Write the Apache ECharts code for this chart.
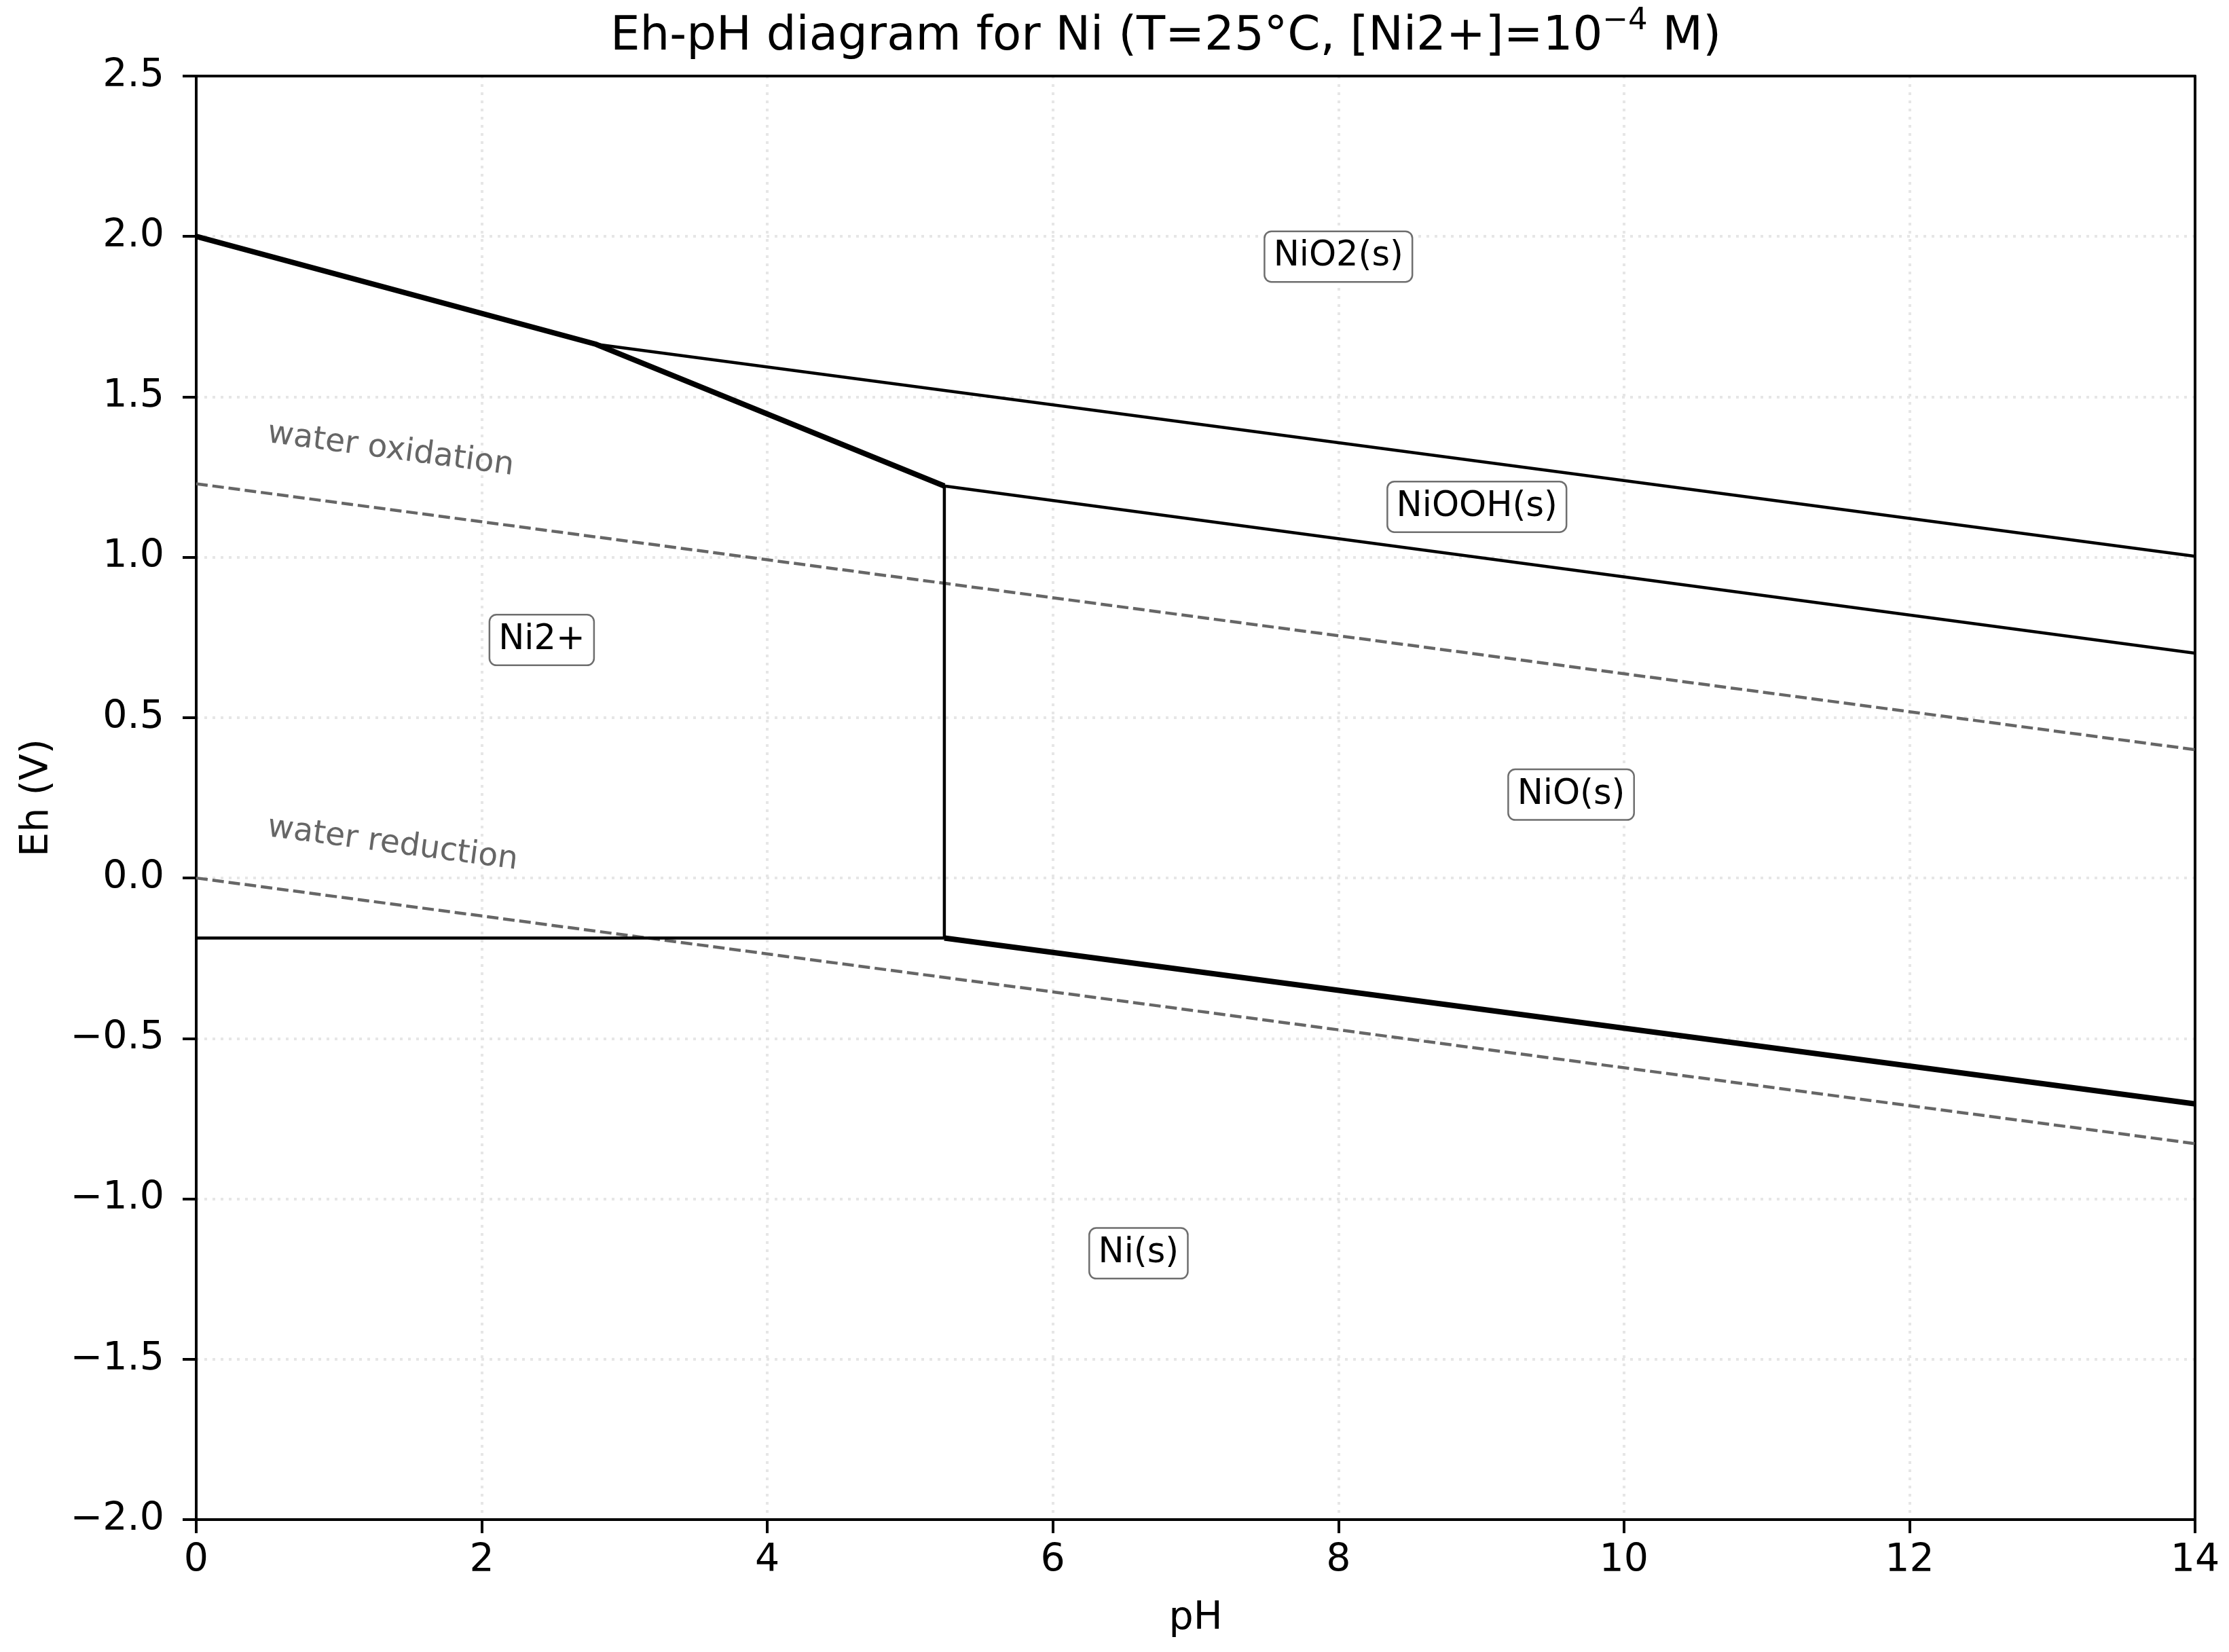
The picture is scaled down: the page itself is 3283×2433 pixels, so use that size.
<!DOCTYPE html>
<html>
<head>
<meta charset="utf-8">
<script src="https://cdn.jsdelivr.net/npm/echarts@6/dist/echarts.min.js"></script>
<style>
html,body{margin:0;padding:0;background:#fff;}
#c{width:3283px;height:2433px;}
</style>
</head>
<body>
<div id="c"></div>
<script>
// ---- data ----
const xTicks = [0, 2, 4, 6, 8, 10, 12, 14];
const yTicks = [-2.0, -1.5, -1.0, -0.5, 0.0, 0.5, 1.0, 1.5, 2.0, 2.5];

// boundaries: pH values and Eh values
const phNi2NiO2 = [0, 2.80, 5.24];
const ehNi2NiO2 = [2.00, 1.664, 1.222];
const phNiO2NiOOH = [2.80, 14];
const ehNiO2NiOOH = [1.664, 1.003];
const phNiOOHNiO = [5.24, 14];
const ehNiOOHNiO = [1.222, 0.701];
const phNi2NiO = [5.24, 5.24];
const ehNi2NiO = [-0.187, 1.222];
const phNi2Ni = [0, 5.24];
const ehNi2Ni = [-0.187, -0.187];
const phNiONi = [5.24, 14];
const ehNiONi = [-0.187, -0.704];

// water stability lines
const phWater = [0, 14];
const ehWaterOx = [1.229, 0.400];
const ehWaterRed = [0.0, -0.828];

// region labels
const regionNames = ['Ni2+', 'NiO2(s)', 'NiOOH(s)', 'NiO(s)', 'Ni(s)'];
const regionPH = [2.42, 8.00, 8.97, 9.63, 6.60];
const regionEh = [0.742, 1.937, 1.157, 0.26, -1.17];

// water labels
const waterLabels = ['water oxidation', 'water reduction'];
const waterLabelPH = [0.5, 0.5];
const waterLabelEh = [1.385, 0.157];

// ---- chart ----
const FONT = 'DejaVu Sans';
const zip = (xs, ys) => xs.map((x, i) => [x, ys[i]]);
const fmtY = v => (v < 0 ? '\u2212' : '') + Math.abs(v).toFixed(1);

const chart = echarts.init(document.getElementById('c'), null, {renderer: 'canvas'});

function lineSeries(name, xs, ys, width, color, type) {
  return {
    name, type: 'line', data: zip(xs, ys), symbol: 'none', z: 5,
    lineStyle: {color: color || '#000', width, type: type || 'solid', cap: 'butt', join: 'miter'},
    silent: true
  };
}

const gridLine = {show: true, showMinLine: false, showMaxLine: false,
  lineStyle: {color: '#e6e6e6', width: 4, type: [4, 8]}};
const spine = {show: true, onZero: false, lineStyle: {color: '#000', width: 4}};

const option = {
  animation: false,
  backgroundColor: '#fff',
  grid: {left: 289, right: 50, top: 112, bottom: 195, containLabel: false},
  xAxis: [{
    type: 'value', min: 0, max: 14, interval: 2, position: 'bottom',
    name: 'pH', nameLocation: 'middle', nameGap: 118,
    nameTextStyle: {fontSize: 57, color: '#000', fontFamily: FONT},
    axisLine: spine,
    axisTick: {show: true, length: 20, lineStyle: {color: '#000', width: 4}},
    axisLabel: {fontSize: 57, color: '#000', fontFamily: FONT, margin: 33, formatter: v => String(v)},
    splitLine: gridLine, z: 3
  }, {
    type: 'value', min: 0, max: 14, interval: 2, position: 'top',
    axisLine: spine, axisTick: {show: false}, axisLabel: {show: false}, splitLine: {show: false}, z: 3
  }],
  yAxis: [{
    type: 'value', min: -2, max: 2.5, interval: 0.5, position: 'left',
    name: 'Eh (V)', nameLocation: 'middle', nameGap: 205, nameRotate: 90,
    nameTextStyle: {fontSize: 57, color: '#000', fontFamily: FONT},
    axisLine: spine,
    axisTick: {show: true, length: 20, lineStyle: {color: '#000', width: 4}},
    axisLabel: {fontSize: 57, color: '#000', fontFamily: FONT, margin: 47, formatter: fmtY},
    splitLine: gridLine, z: 3
  }, {
    type: 'value', min: -2, max: 2.5, interval: 0.5, position: 'right',
    axisLine: spine, axisTick: {show: false}, axisLabel: {show: false}, splitLine: {show: false}, z: 3
  }],
  series: [
    lineSeries('water oxidation', phWater, ehWaterOx, 4.5, '#666666', [17, 7]),
    lineSeries('water reduction', phWater, ehWaterRed, 4.5, '#666666', [17, 7]),
    lineSeries('Ni2+/NiO2', phNi2NiO2, ehNi2NiO2, 8),
    lineSeries('NiO2/NiOOH', phNiO2NiOOH, ehNiO2NiOOH, 4.5),
    lineSeries('NiOOH/NiO', phNiOOHNiO, ehNiOOHNiO, 4.5),
    lineSeries('Ni2+/NiO', phNi2NiO, ehNi2NiO, 4.5),
    lineSeries('Ni2+/Ni', phNi2Ni, ehNi2Ni, 4.5),
    lineSeries('NiO/Ni', phNiONi, ehNiONi, 8),
    {
      name: 'regions', type: 'scatter', z: 10, silent: true,
      symbol: 'circle', symbolSize: 2, itemStyle: {color: 'rgba(255,255,255,0)'},
      data: regionNames.map((n, i) => [regionPH[i], regionEh[i], n]),
      labelLayout: {hideOverlap: false},
      label: {
        show: true, position: 'inside', formatter: p => p.data[2],
        fontSize: 51, lineHeight: 52, color: '#000000', fontFamily: FONT,
        textBorderWidth: 0, textBorderColor: 'transparent', opacity: 1,
        backgroundColor: '#fff', borderColor: '#6e6e6e', borderWidth: 2.5, borderRadius: 9,
        padding: [10, 12, 10, 12]
      }
    }
  ]
};
chart.setOption(option);

// title and rotated water labels via graphic, positioned through the axes
const p1 = chart.convertToPixel({gridIndex: 0}, [phWater[0], ehWaterOx[0]]);
const p2 = chart.convertToPixel({gridIndex: 0}, [phWater[1], ehWaterOx[1]]);
const ang = Math.atan2(p2[1] - p1[1], p2[0] - p1[0]);
const gl = waterLabels.map((t, i) => {
  const p = chart.convertToPixel({gridIndex: 0}, [waterLabelPH[i], waterLabelEh[i]]);
  return {
    type: 'text', x: p[0], y: p[1], rotation: -ang, z: 20, silent: true,
    style: {text: t, fontSize: 47, fontFamily: FONT, fill: '#666666', align: 'left', verticalAlign: 'middle'}
  };
});
gl.push({
  type: 'text', x: 1717, y: 55, z: 20, silent: true,
  style: {
    text: '{a|Eh-pH diagram for Ni (T=25°C, [Ni2+]=10}{s|\u22124}{a| M)}',
    align: 'center', verticalAlign: 'middle',
    rich: {
      a: {fontSize: 69, lineHeight: 92, fontFamily: FONT, fill: '#000', color: '#000'},
      s: {fontSize: 45, lineHeight: 45, fontFamily: FONT, fill: '#000', color: '#000', verticalAlign: 'top'}
    }
  }
});
chart.setOption({graphic: gl});
</script>
</body>
</html>
